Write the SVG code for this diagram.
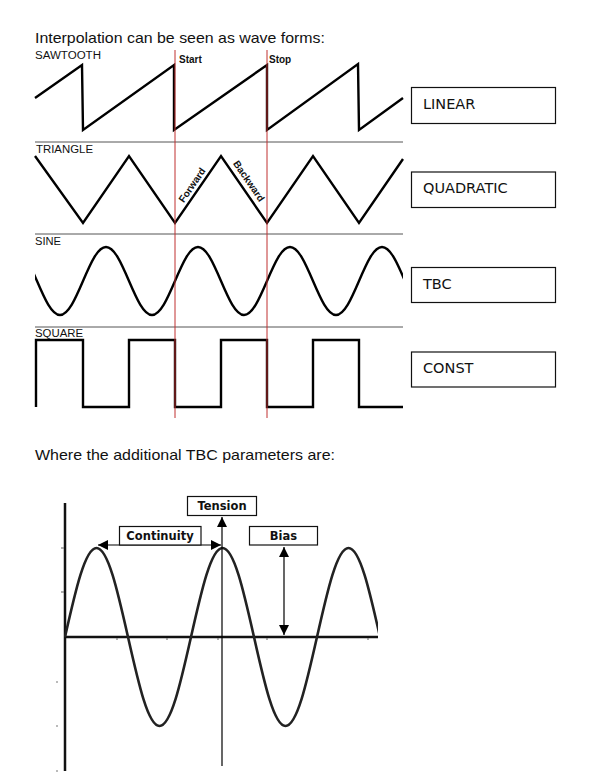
<svg xmlns="http://www.w3.org/2000/svg" width="593" height="781" viewBox="0 0 593 781">
<style>
.title{font-family:"Liberation Sans",Arial,sans-serif;font-size:15px;fill:#111}
.wlabel{font-family:"Liberation Sans",Arial,sans-serif;font-size:10px;fill:#111}
.blabel{font-family:"Liberation Sans",Arial,sans-serif;font-size:10px;font-weight:bold;fill:#111}
.wave{fill:none;stroke:#000;stroke-width:2.4;stroke-linejoin:miter}
.sep{stroke:#555;stroke-width:1}
.red{stroke:#c03030;stroke-width:1}
.box{fill:#fff;stroke:#111;stroke-width:1.2}
.btext{font-family:"DejaVu Sans",Tahoma,sans-serif;font-size:14.5px;fill:#111}
.ptext{font-family:"DejaVu Sans",Verdana,sans-serif;font-size:11.5px;font-weight:bold;fill:#111}
.axis{stroke:#111;stroke-width:2.5;fill:none}
.thin{stroke:#000;stroke-width:1.2;fill:none}
.tick{stroke:#777;stroke-width:1.2}
</style>
<defs>
<clipPath id="clipTop"><rect x="35" y="230" width="368" height="100"/></clipPath>
<clipPath id="clipBot"><rect x="64" y="520" width="314" height="230"/></clipPath>
<marker id="ah" viewBox="0 0 10 10" refX="10" refY="5" markerWidth="10" markerHeight="10" markerUnits="userSpaceOnUse" orient="auto-start-reverse">
<path d="M0,0 L10,5 L0,10 z" fill="#000"/>
</marker>
</defs>

<text class="title" x="35" y="43" textLength="290" lengthAdjust="spacingAndGlyphs">Interpolation can be seen as wave forms:</text>

<g id="separators">
<line class="sep" x1="35" y1="142" x2="403" y2="142"/>
<line class="sep" x1="35" y1="234" x2="403" y2="234"/>
<line class="sep" x1="35" y1="327" x2="403" y2="327"/>
</g>

<g id="sawtooth">
<text class="wlabel" x="35" y="59" textLength="66" lengthAdjust="spacingAndGlyphs">SAWTOOTH</text>
<path class="wave" d="M35,98 L82,65 L83,130 L174,65 L174,130 L267,65 L267,130 L358,64 L359,130 L403,98"/>
</g>

<g id="triangle">
<text class="wlabel" x="36" y="153" textLength="57" lengthAdjust="spacingAndGlyphs">TRIANGLE</text>
<path class="wave" d="M35,156 L83,223 L129,156 L175,223 L221,156 L267,223 L313,156 L359,223 L403,159"/>
<text class="blabel" text-anchor="middle" transform="translate(192,185) rotate(-55.5)" y="3.5">Forward</text>
<text class="blabel" text-anchor="middle" transform="translate(249,181) rotate(55.5)" y="3.5">Backward</text>
</g>

<g id="sine">
<text class="wlabel" x="35" y="245" textLength="26" lengthAdjust="spacingAndGlyphs">SINE</text>
<path class="wave" clip-path="url(#clipTop)" d="M-9,281
c7.61,-17.68 14.65,-34 23,-34 c8.35,0 15.39,16.32 23,34 c7.61,17.68 14.65,34 23,34 c8.35,0 15.39,-16.32 23,-34
c7.61,-17.68 14.65,-34 23,-34 c8.35,0 15.39,16.32 23,34 c7.61,17.68 14.65,34 23,34 c8.35,0 15.39,-16.32 23,-34
c7.61,-17.68 14.65,-34 23,-34 c8.35,0 15.39,16.32 23,34 c7.61,17.68 14.65,34 23,34 c8.35,0 15.39,-16.32 23,-34
c7.61,-17.68 14.65,-34 23,-34 c8.35,0 15.39,16.32 23,34 c7.61,17.68 14.65,34 23,34 c8.35,0 15.39,-16.32 23,-34
c7.61,-17.68 14.65,-34 23,-34 c8.35,0 15.39,16.32 23,34"/>
</g>

<g id="square">
<text class="wlabel" x="35" y="337" textLength="48" lengthAdjust="spacingAndGlyphs">SQUARE</text>
<path class="wave" d="M36,407 L36,340 L83,340 L83,407 L129,407 L129,340 L175,340 L175,407 L221,407 L221,340 L267,340 L267,407 L313,407 L313,340 L359,340 L359,407 L403,407"/>
</g>

<g id="markers">
<line class="red" x1="175" y1="50" x2="175" y2="418"/>
<line class="red" x1="267" y1="50" x2="267" y2="418"/>
<text class="blabel" x="179" y="63">Start</text>
<text class="blabel" x="269" y="63">Stop</text>
</g>

<g id="linear">
<rect class="box" x="411.5" y="87.5" width="144" height="36"/>
<text class="btext" x="423" y="109">LINEAR</text>
</g>
<g id="quadratic">
<rect class="box" x="411.5" y="172" width="144" height="35.5"/>
<text class="btext" x="423" y="193">QUADRATIC</text>
</g>
<g id="tbc">
<rect class="box" x="411.5" y="267.5" width="144" height="35"/>
<text class="btext" x="423" y="289">TBC</text>
</g>
<g id="const">
<rect class="box" x="411.5" y="352" width="144" height="35"/>
<text class="btext" x="423" y="373">CONST</text>
</g>

<text class="title" x="35" y="460" textLength="300" lengthAdjust="spacingAndGlyphs">Where the additional TBC parameters are:</text>

<g id="axes">
<line class="axis" x1="65" y1="503" x2="65" y2="771"/>
<line class="axis" x1="65" y1="637" x2="378" y2="637"/>
<line class="tick" x1="61" y1="548" x2="64" y2="548"/>
<line class="tick" x1="61" y1="592" x2="64" y2="592"/>
<line class="tick" x1="56" y1="682" x2="58" y2="682"/>
<line class="tick" x1="56" y1="726" x2="58" y2="726"/>
<line class="tick" x1="56" y1="771" x2="58" y2="771"/>
<line class="tick" x1="117" y1="638" x2="117" y2="640"/>
<line class="tick" x1="167" y1="638" x2="167" y2="640"/>
<line class="tick" x1="218" y1="638" x2="218" y2="640"/>
<line class="tick" x1="267" y1="638" x2="267" y2="640"/>
<line class="tick" x1="368" y1="638" x2="368" y2="640"/>
</g>

<g id="curve">
<path clip-path="url(#clipBot)" fill="none" stroke="#222" stroke-width="2.6" d="M65,637
c10.43,-46.3 20.07,-89 31.5,-89 c11.43,0 21.07,42.7 31.5,89 c10.43,46.3 20.07,89 31.5,89 c11.43,0 21.07,-42.7 31.5,-89
c10.43,-46.3 20.07,-89 31.5,-89 c11.43,0 21.07,42.7 31.5,89 c10.43,46.3 20.07,89 31.5,89 c11.43,0 21.07,-42.7 31.5,-89
c10.43,-46.3 20.07,-89 31.5,-89 c11.43,0 21.07,42.7 31.5,89"/>
</g>

<g id="connectors">
<line class="thin" x1="222" y1="766" x2="222" y2="517" marker-end="url(#ah)"/>
<line class="thin" x1="98" y1="545" x2="221" y2="545" marker-start="url(#ah)" marker-end="url(#ah)"/>
<line class="thin" x1="284" y1="547" x2="284" y2="635" marker-start="url(#ah)" marker-end="url(#ah)"/>
</g>

<g id="tension">
<rect class="box" x="187.5" y="496.5" width="69" height="19"/>
<text class="ptext" x="222" y="510" text-anchor="middle">Tension</text>
</g>
<g id="continuity">
<rect class="box" x="119.5" y="526.5" width="81.5" height="18.5"/>
<text class="ptext" x="160" y="540" text-anchor="middle">Continuity</text>
</g>
<g id="bias">
<rect class="box" x="249.5" y="526.5" width="68" height="18.5"/>
<text class="ptext" x="283.5" y="540" text-anchor="middle">Bias</text>
</g>
</svg>
